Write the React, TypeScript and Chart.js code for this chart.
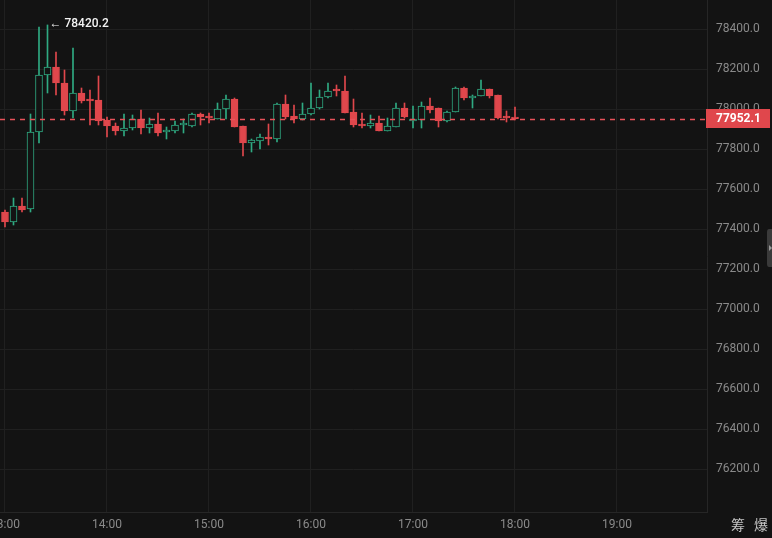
import React, { useEffect, useRef } from 'react';
import { Chart, registerables } from 'chart.js';

Chart.register(...registerables);

// ---- data ----
const times = [
  '13:00', '13:05', '13:10', '13:15', '13:20', '13:25', '13:30', '13:35', '13:40', '13:45', '13:50', '13:55',
  '14:00', '14:05', '14:10', '14:15', '14:20', '14:25', '14:30', '14:35', '14:40', '14:45', '14:50', '14:55',
  '15:00', '15:05', '15:10', '15:15', '15:20', '15:25', '15:30', '15:35', '15:40', '15:45', '15:50', '15:55',
  '16:00', '16:05', '16:10', '16:15', '16:20', '16:25', '16:30', '16:35', '16:40', '16:45', '16:50', '16:55',
  '17:00', '17:05', '17:10', '17:15', '17:20', '17:25', '17:30', '17:35', '17:40', '17:45', '17:50', '17:55',
  '18:00',
];
const opens = [
  77485, 77435, 77515, 77500, 77885, 78170, 78210, 78130, 77990, 78080, 78050, 78045,
  77945, 77915, 77890, 77905, 77950, 77905, 77925, 77885, 77890, 77920, 77915, 77975,
  77965, 77950, 78000, 78050, 77915, 77830, 77840, 77860, 77850, 78025, 77965, 77950,
  77975, 78005, 78060, 78100, 78090, 77985, 77925, 77915, 77930, 77890, 77910, 78005,
  77940, 77945, 78015, 78005, 77940, 77985, 78105, 78055, 78065, 78100, 78070, 77965,
  77960,
];
const highs = [
  77495, 77555, 77555, 77975, 78410, 78420.2, 78285, 78195, 78305, 78105, 78095, 78165,
  77960, 77930, 77975, 77970, 77995, 77955, 77980, 77910, 77940, 77950, 77980, 77980,
  77980, 78030, 78070, 78055, 77915, 77850, 77875, 77925, 78030, 78070, 78020, 78030,
  78130, 78095, 78130, 78120, 78165, 78050, 77980, 77970, 77965, 77955, 78030, 78030,
  78015, 78035, 78055, 78005, 77990, 78110, 78110, 78070, 78145, 78100, 78070, 77990,
  78010,
];
const lows = [
  77410, 77420, 77485, 77485, 77830, 78080, 78070, 77970, 77955, 78030, 77920, 77920,
  77860, 77870, 77865, 77895, 77875, 77880, 77865, 77850, 77880, 77880, 77910, 77920,
  77930, 77950, 77950, 77910, 77765, 77785, 77800, 77820, 77835, 77950, 77930, 77945,
  77970, 78000, 78055, 78065, 77980, 77910, 77905, 77905, 77890, 77890, 77910, 77955,
  77905, 77905, 77980, 77910, 77935, 77985, 78045, 78005, 78065, 78055, 77950, 77935,
  77945,
];
const closes = [
  77435, 77515, 77495, 77885, 78170, 78210, 78130, 77990, 78080, 78040, 78040, 77940,
  77915, 77890, 77905, 77950, 77905, 77925, 77880, 77895, 77920, 77930, 77975, 77960,
  77955, 78000, 78050, 77910, 77830, 77845, 77860, 77850, 78025, 77960, 77950, 77975,
  78005, 78060, 78090, 78090, 77980, 77920, 77915, 77930, 77890, 77915, 78005, 77960,
  77950, 78015, 77995, 77940, 77985, 78105, 78055, 78065, 78100, 78065, 77955, 77955,
  77952.1,
];
const xTickLabels = ['13:00', '14:00', '15:00', '16:00', '17:00', '18:00', '19:00'];
const yTicks = [76200, 76400, 76600, 76800, 77000, 77200, 77400, 77600, 77800, 78000, 78200, 78400];
const lastPrice = 77952.1;
const maxPrice = 78420.2;
const maxIndex = 5;
const sideLabels = ['筹', '爆'];

// ---- style ----
const BG = '#131313';
const GREEN = '#2faa82';
const RED = '#e0474c';
const GRID = '#202020';
const BORDER = '#262626';
const TICK = '#8a8a8a';
const FONT = 'Roboto, "Liberation Sans", sans-serif';

const toMin = (t: string) => {
  const [h, m] = t.split(':').map(Number);
  return h * 60 + m;
};
const xTickVals = xTickLabels.map(toMin);

export default function App() {
  const ref = useRef<HTMLCanvasElement | null>(null);

  useEffect(() => {
    if (!ref.current) return;
    const up = closes.map((c, i) => c >= opens[i]);

    const overlay = {
      id: 'overlay',
      beforeDraw(chart: any) {
        const { ctx, width, height } = chart;
        ctx.save();
        ctx.fillStyle = BG;
        ctx.fillRect(0, 0, width, height);
        ctx.restore();
      },
      afterDatasetsDraw(chart: any) {
        const { ctx, chartArea, scales } = chart;
        const y = Math.round(scales.y.getPixelForValue(lastPrice)) + 0.5;
        ctx.save();
        ctx.strokeStyle = '#e8525a';
        ctx.lineWidth = 1.5;
        ctx.setLineDash([5, 5]);
        ctx.beginPath();
        ctx.moveTo(chartArea.left, y);
        ctx.lineTo(chartArea.right, y);
        ctx.stroke();
        ctx.restore();
      },
      afterDraw(chart: any) {
        const { ctx, chartArea, scales, width } = chart;
        const y = scales.y.getPixelForValue(lastPrice);
        ctx.save();
        // price tag
        ctx.fillStyle = RED;
        ctx.fillRect(chartArea.right - 1, Math.round(y) - 10, 64, 19);
        ctx.fillStyle = '#ffffff';
        ctx.font = `bold 12px ${FONT}`;
        ctx.textAlign = 'left';
        ctx.textBaseline = 'middle';
        ctx.fillText(lastPrice.toFixed(1), chartArea.right + 9, Math.round(y));
        // max label
        const mx = scales.x.getPixelForValue(toMin(times[maxIndex]));
        const my = scales.y.getPixelForValue(maxPrice);
        ctx.font = `500 12px ${FONT}`;
        ctx.fillStyle = '#f4f4f4';
        ctx.fillText('← ' + maxPrice.toFixed(1), mx + 2, my - 1);
        // side handle
        ctx.fillStyle = '#3a3a3a';
        ctx.beginPath();
        ctx.moveTo(width, 229);
        ctx.lineTo(width - 3, 229);
        ctx.quadraticCurveTo(width - 5, 229, width - 5, 232);
        ctx.lineTo(width - 5, 264);
        ctx.quadraticCurveTo(width - 5, 267, width - 3, 267);
        ctx.lineTo(width, 267);
        ctx.closePath();
        ctx.fill();
        ctx.fillStyle = '#9a9a9a';
        ctx.beginPath();
        ctx.moveTo(width - 3, 245);
        ctx.lineTo(width, 248);
        ctx.lineTo(width - 3, 251);
        ctx.closePath();
        ctx.fill();
        // bottom right CJK labels
        ctx.fillStyle = '#c4c4c4';
        ctx.font = `14px "Noto Sans CJK SC", sans-serif`;
        ctx.textAlign = 'left';
        ctx.fillText(sideLabels[0], 731, 525);
        ctx.fillText(sideLabels[1], 754, 525);
        ctx.restore();
      },
    };

    const chart = new Chart(ref.current, {
      type: 'bar',
      data: {
        datasets: [
          {
            label: 'body',
            data: times.map((t, i) => ({ x: toMin(t), y: [opens[i], closes[i]] })) as any,
            backgroundColor: up.map((u) => (u ? BG : RED)),
            borderColor: up.map((u) => (u ? GREEN : RED)),
            borderWidth: 1,
            borderSkipped: false,
            barThickness: 7,
            minBarLength: 1,
            grouped: false,
          } as any,
          {
            label: 'wick',
            data: times.map((t, i) => ({ x: toMin(t), y: [lows[i], highs[i]] })) as any,
            backgroundColor: up.map((u) => (u ? GREEN : RED)),
            borderWidth: 0,
            barThickness: 1,
            grouped: false,
          } as any,
        ],
      },
      options: {
        animation: false,
        responsive: true,
        maintainAspectRatio: false,
        layout: { padding: 0 },
        plugins: { legend: { display: false }, tooltip: { enabled: false } },
        scales: {
          x: {
            type: 'linear',
            min: 13 * 60 - 2.94,
            max: 13 * 60 - 2.94 + (707 / 102) * 60,
            offset: false,
            grid: { color: GRID, drawTicks: false, lineWidth: 1, offset: false },
            border: { display: true, color: BORDER },
            ticks: {
              color: TICK,
              font: { family: FONT, size: 12 },
              padding: 6,
              maxRotation: 0,
              autoSkip: false,
              callback: (v: any) => {
                const idx = xTickVals.indexOf(Number(v));
                return idx >= 0 ? xTickLabels[idx] : '';
              },
            },
            afterBuildTicks: (s: any) => {
              s.ticks = xTickVals.map((v) => ({ value: v }));
            },
            afterFit: (s: any) => {
              s.height = 26;
              s.paddingLeft = 0;
              s.paddingRight = 0;
            },
          },
          y: {
            position: 'right',
            min: 78400 - (512 - 29) * 5,
            max: 78400 + 29 * 5,
            grid: { color: GRID, drawTicks: false, lineWidth: 1 },
            border: { display: true, color: BORDER },
            ticks: {
              color: TICK,
              font: { family: FONT, size: 12 },
              padding: 9,
              crossAlign: 'near',
              callback: (v: any) => Number(v).toFixed(1),
            },
            afterBuildTicks: (s: any) => {
              s.ticks = yTicks.map((v) => ({ value: v }));
            },
            afterFit: (s: any) => {
              s.width = 65;
              s.paddingTop = 0;
              s.paddingBottom = 0;
            },
          },
        },
      } as any,
      plugins: [overlay],
    });
    return () => chart.destroy();
  }, []);

  return (
    <div style={{ position: 'fixed', left: 0, top: 0, width: 772, height: 538, background: BG }}>
      <canvas ref={ref} />
    </div>
  );
}
